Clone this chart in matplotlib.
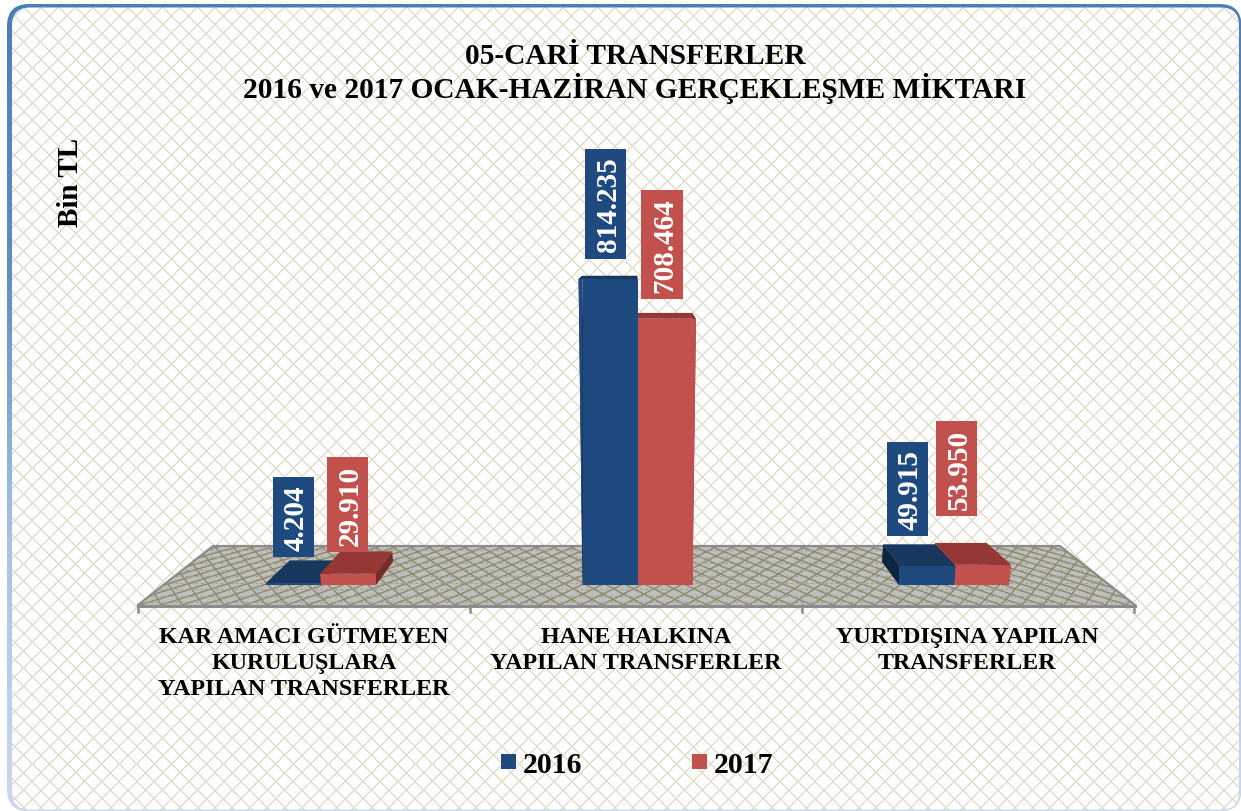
import numpy as np
import matplotlib
matplotlib.use("Agg")
import matplotlib.pyplot as plt
from matplotlib.patches import FancyBboxPatch, Polygon, Patch, Rectangle
from matplotlib.colors import LinearSegmentedColormap
from matplotlib.transforms import IdentityTransform

plt.rcParams['font.family'] = ['Liberation Serif', 'DejaVu Serif']
plt.rcParams['font.weight'] = 'bold'

# ---- data ----
title_lines = ["05-CARİ TRANSFERLER", "2016 ve 2017 OCAK-HAZİRAN GERÇEKLEŞME MİKTARI"]
y_title = "Bin TL"
categories = ["KAR AMACI GÜTMEYEN\nKURULUŞLARA\nYAPILAN TRANSFERLER",
              "HANE HALKINA\nYAPILAN TRANSFERLER",
              "YURTDIŞINA YAPILAN\nTRANSFERLER"]
series_names = ["2016", "2017"]
values_2016 = [4204, 814235, 49915]
values_2017 = [29910, 708464, 53950]

# ---- layout (pixels) ----
W, H = 1241, 812
GROUP0_PX, GROUP_STEP_PX = 321.0, 316.5
BASE_PX = 586.0
PX_PER_VALUE = 306.0 / 814235
BAR_W = 55.0 / GROUP_STEP_PX
VX = (637.0 - GROUP0_PX) / GROUP_STEP_PX      # vanishing point, data units
VY = (BASE_PX - 230.0) / PX_PER_VALUE
DEPTH = 0.065
FLARE = 8.8e-8
CAT_LABEL_PX = [304, 636, 967]
label_offsets_2016 = [(0, 66), (-4.5, 75), (-19, 77)]
label_offsets_2017 = [(-1, 69), (-3, 74.5), (-25, 96)]
INK_SHIFT_PX = 3.0     # glyphs sit right of the centre of their box
BOX_PAD_PX = 7.2

PALETTE = {
    "2016": dict(front="#1f4a80", top="#17375e", side="#0e2440"),
    "2017": dict(front="#c2514e", top="#953735", side="#772c2a"),
}

fig = plt.figure(figsize=(W / 100, H / 100), dpi=100, facecolor="white")

# ---- decoration axes in pixel coordinates ----
bg = fig.add_axes([0, 0, 1, 1], zorder=0)
bg.set_xlim(0, W); bg.set_ylim(H, 0); bg.axis("off")

outer = FancyBboxPatch((7, 5), W + 0.5 - 7, H + 0.5 - 5,
                       boxstyle="round,pad=0,rounding_size=22", fc="none", ec="none")
inner = FancyBboxPatch((12, 8.5), W - 2 - 12, H - 1.5 - 8.5,
                       boxstyle="round,pad=0,rounding_size=18", fc="none", ec="none")
bg.add_patch(outer); bg.add_patch(inner)
cmap = LinearSegmentedColormap.from_list("b", ["#4a7ebb", "#5f8dc4", "#a9c2e4", "#c9d9f0"])
grad = np.linspace(0, 1, H)[:, None]
im = bg.imshow(grad, extent=(0, W, H, 0), cmap=cmap, aspect="auto", zorder=1)
im.set_clip_path(outer)

P = 17.4
yy, xx = np.mgrid[0:H, 0:W]
mask = (((xx + yy + 5) % P) < 2) | (((xx - yy + 3) % P) < 2)
img = np.ones((H, W, 3))
img[mask] = np.array([0xe2, 0xde, 0xc9]) / 255
pat = bg.imshow(img, extent=(0, W, H, 0), aspect="auto", interpolation="nearest", zorder=2)
pat.set_clip_path(inner)
bg.set_xlim(0, W); bg.set_ylim(H, 0)

# floor
FRONT_Y, BACK_Y = 606.0, 547.0
floor_pts = [(138, FRONT_Y), (213, BACK_Y), (1060, BACK_Y), (1135, FRONT_Y)]
floor = Polygon(floor_pts, closed=True, fc="#bebeba", ec="none", zorder=3)
bg.add_patch(floor)
s_vals = np.linspace(1.0, (BACK_Y - 230) / (FRONT_Y - 230), 12)
for X0 in np.arange(-1400, 1400, 21):
    for sgn in (-1, 1):
        Xg = X0 + sgn * 700 * (1 - s_vals) / s_vals
        ln, = bg.plot(637 + Xg * s_vals, 230 + 376 * s_vals, color="#8b876c", lw=1.0, zorder=4)
        ln.set_clip_path(floor)
for y in np.arange(BACK_Y + 4, FRONT_Y, 6.5):
    ln, = bg.plot([100, 1180], [y, y], color="#a09e8c", lw=0.8, ls=(0, (2.5, 2)), zorder=4)
    ln.set_clip_path(floor)
edge = "#8c8c8c"
bg.plot([138, 213, 1060, 1135], [FRONT_Y, BACK_Y, BACK_Y, FRONT_Y], color=edge, lw=1.6, zorder=5)
bg.plot([138, 1135], [FRONT_Y + 0.5] * 2, color=edge, lw=2.2, zorder=5)
for tx in (138, 470, 802, 1134):
    bg.plot([tx, tx], [FRONT_Y, FRONT_Y + 7], color=edge, lw=1.8, zorder=5)

# texts
for line, yp in zip(title_lines, (63.5, 97.5)):
    bg.text(635, yp, line, ha="center", va="baseline", fontsize=21.2, color="black", zorder=6)
bg.text(71, 182, y_title, rotation=90, ha="center", va="center", fontsize=21, color="black", zorder=6)
for cat, xp in zip(categories, CAT_LABEL_PX):
    bg.text(xp, 627, cat, ha="center", va="top", fontsize=17.3, color="black",
            linespacing=1.3, zorder=6)

# ---- data axes: whole figure, linear in values ----
ax = fig.add_axes([0, 0, 1, 1], zorder=1)
ax.patch.set_alpha(0)
ax.axis("off")
ax.set_xlim(-GROUP0_PX / GROUP_STEP_PX, (W - GROUP0_PX) / GROUP_STEP_PX)
ax.set_ylim(-(H - BASE_PX) / PX_PER_VALUE, BASE_PX / PX_PER_VALUE)


def flare(x, v):
    return VX + (x - VX) * (1 + FLARE * v)


def back(x, v):
    return x + DEPTH * (VX - x), v + DEPTH * (VY - v)


idx = np.arange(len(categories))
value_labels = []
for name, vals, shift, offs in zip(series_names, (values_2016, values_2017),
                                   (-BAR_W / 2, BAR_W / 2),
                                   (label_offsets_2016, label_offsets_2017)):
    pal = PALETTE[name]
    xc = idx + shift
    bars = ax.bar(xc, vals, width=BAR_W, color=pal["front"], linewidth=0)
    for bar, x, v, off in zip(bars, xc, vals, offs):
        z = 10 + 10 * (2 - abs(x - VX))
        bar.set_zorder(z + 0.3)
        x0, x1 = x - BAR_W / 2, x + BAR_W / 2
        fx0, fx1 = flare(x0, v), flare(x1, v)
        # flared front edges
        ax.fill([x0, fx0, x0], [0, v, v], color=pal["front"], lw=0, zorder=z + 0.3)
        ax.fill([x1, fx1, x1], [0, v, v], color=pal["front"], lw=0, zorder=z + 0.3)
        # top
        b0, b1 = back(fx0, v), back(fx1, v)
        ax.fill([fx0, fx1, b1[0], b0[0]], [v, v, b1[1], b0[1]], color=pal["top"], lw=0, zorder=z + 0.2)
        # sides
        for xa, fa in ((x0, fx0), (x1, fx1)):
            g0, g1 = back(xa, 0), back(fa, v)
            ax.fill([xa, fa, g1[0], g0[0]], [0, v, g1[1], g0[1]], color=pal["side"], lw=0, zorder=z + 0.1)
        t = ax.annotate(f"{v:,}".replace(",", "."), xy=(x, v),
                        xytext=(off[0] + INK_SHIFT_PX, off[1]), textcoords="offset pixels",
                        rotation=90, ha="center", va="center", color="white", fontsize=21, zorder=60)
        value_labels.append((t, pal["front"]))

# label boxes follow the measured text extents
fig.canvas.draw()
renderer = fig.canvas.get_renderer()
for t, colour in value_labels:
    e = t.get_window_extent(renderer)
    ax.add_patch(Rectangle((e.x0 - INK_SHIFT_PX - BOX_PAD_PX, e.y0 - BOX_PAD_PX),
                           e.width + 2 * BOX_PAD_PX, e.height + 2 * BOX_PAD_PX,
                           transform=IdentityTransform(), fc=colour, ec="none", zorder=59))

handles = [Patch(fc=PALETTE[n]["front"], ec="none", label=n) for n in series_names]
ax.legend(handles=handles, loc="center", bbox_to_anchor=(637 / W, 1 - 766 / H), ncol=2,
          frameon=False, fontsize=21.5, handlelength=0.5, handleheight=0.39,
          handletextpad=0.24, columnspacing=3.66, borderpad=0, labelcolor="black")

fig.savefig("out.png", dpi=100, facecolor="white")
